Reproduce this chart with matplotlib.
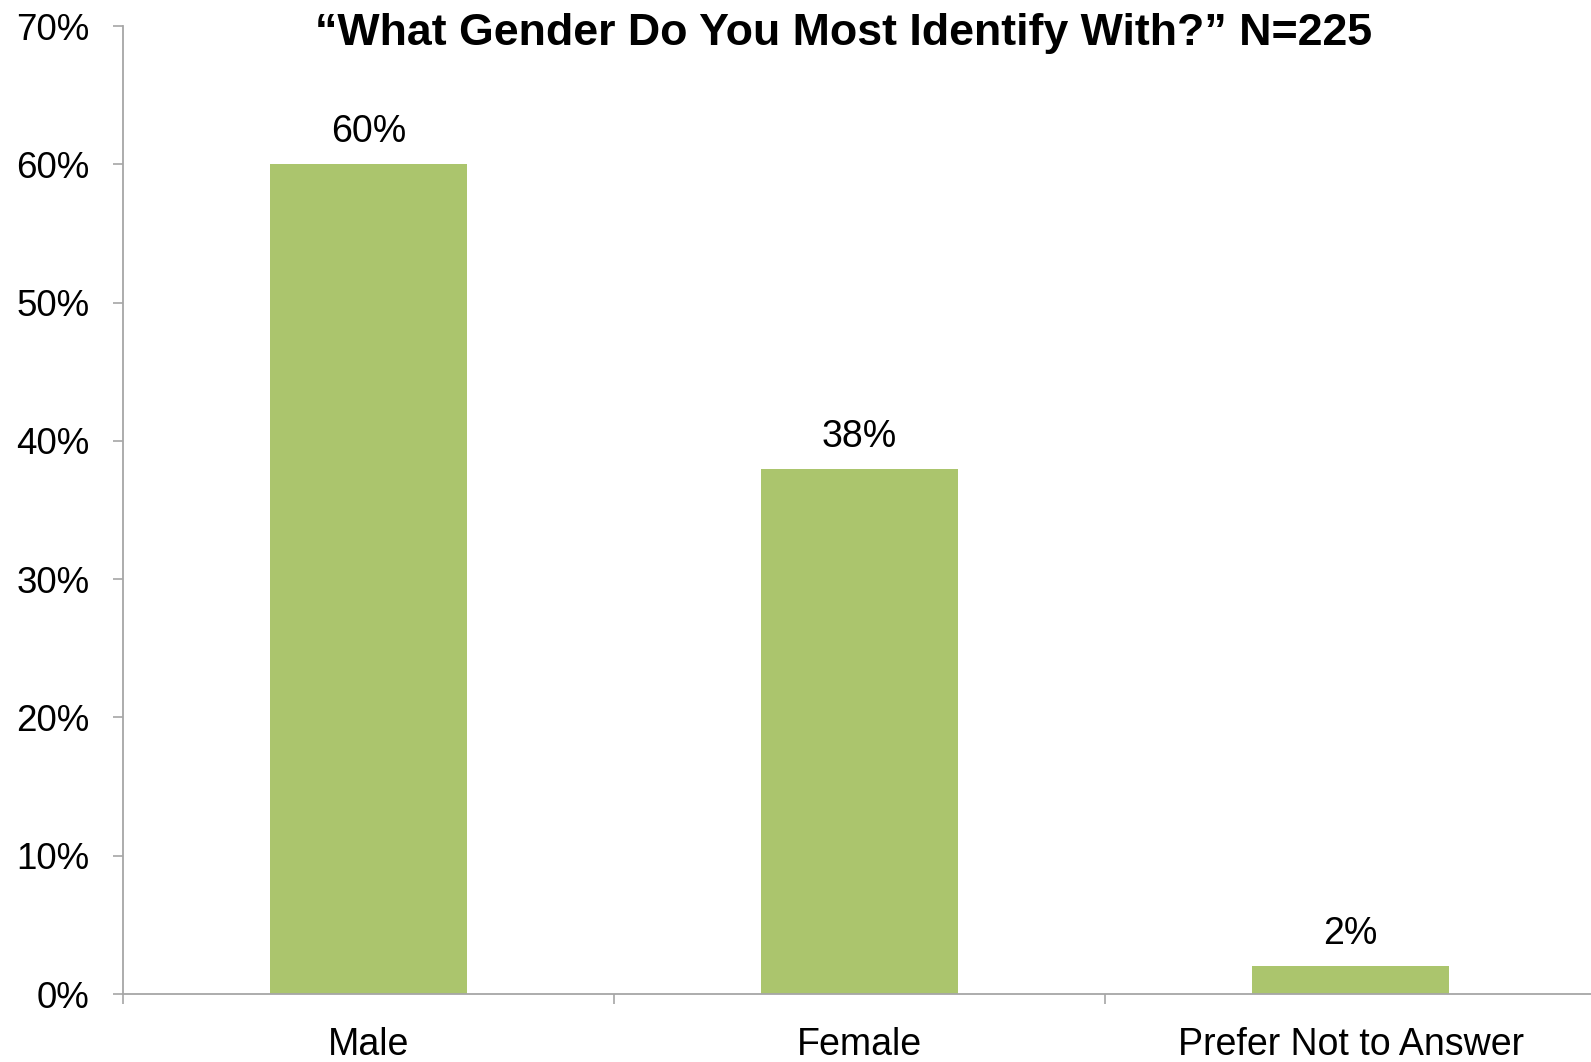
import matplotlib
matplotlib.use("Agg")
import matplotlib.pyplot as plt

categories = ["Male", "Female", "Prefer Not to Answer"]
shares = [60, 38, 2]
y_ticks = [0, 10, 20, 30, 40, 50, 60, 70]
title = "\u201cWhat Gender Do You Most Identify With?\u201d N=225"

plt.rcParams["font.family"] = ["Liberation Sans", "DejaVu Sans"]

BAR = "#abc56d"
AXIS = "#a6a6a6"

fig = plt.figure(figsize=(15.91, 10.62), dpi=100)
ax = fig.add_axes([123 / 1591, 1 - 994 / 1062, 1473 / 1591, (994 - 26) / 1062])

xs = list(range(len(categories)))
bars = ax.bar(xs, shares, width=0.4, color=BAR, zorder=2)
for b, v in zip(bars, shares):
    ax.annotate(f"{v}%", (b.get_x() + b.get_width() / 2, v),
                xytext=(0, 10), textcoords="offset points",
                ha="center", va="bottom", fontsize=27)

ax.set_xlim(-0.5, len(categories) - 0.5)
ax.set_ylim(0, 70)

# boundary ticks between categories, labels sit on minor ticks at bar centres
ax.set_xticks([i - 0.5 for i in range(len(categories) + 1)])
ax.set_xticklabels([])
ax.set_xticks(xs, minor=True)
ax.set_xticklabels(categories, minor=True, fontsize=27)
ax.tick_params(axis="x", which="major", length=7, width=1.2, color=AXIS, direction="out")
ax.tick_params(axis="x", which="minor", length=0, pad=24)

ax.set_yticks(y_ticks)
ax.set_yticklabels([f"{t}%" for t in y_ticks], fontsize=26.5)
ax.tick_params(axis="y", length=7, width=1.2, color=AXIS, direction="out", pad=17)

for side in ("top", "right"):
    ax.spines[side].set_visible(False)
for side in ("left", "bottom"):
    ax.spines[side].set_color(AXIS)
    ax.spines[side].set_linewidth(1.3)

fig.text(844 / 1591, 1 - 33 / 1062, title, ha="center", va="center",
         fontsize=32.2, fontweight="bold")

fig.savefig("out.png", dpi=100)
